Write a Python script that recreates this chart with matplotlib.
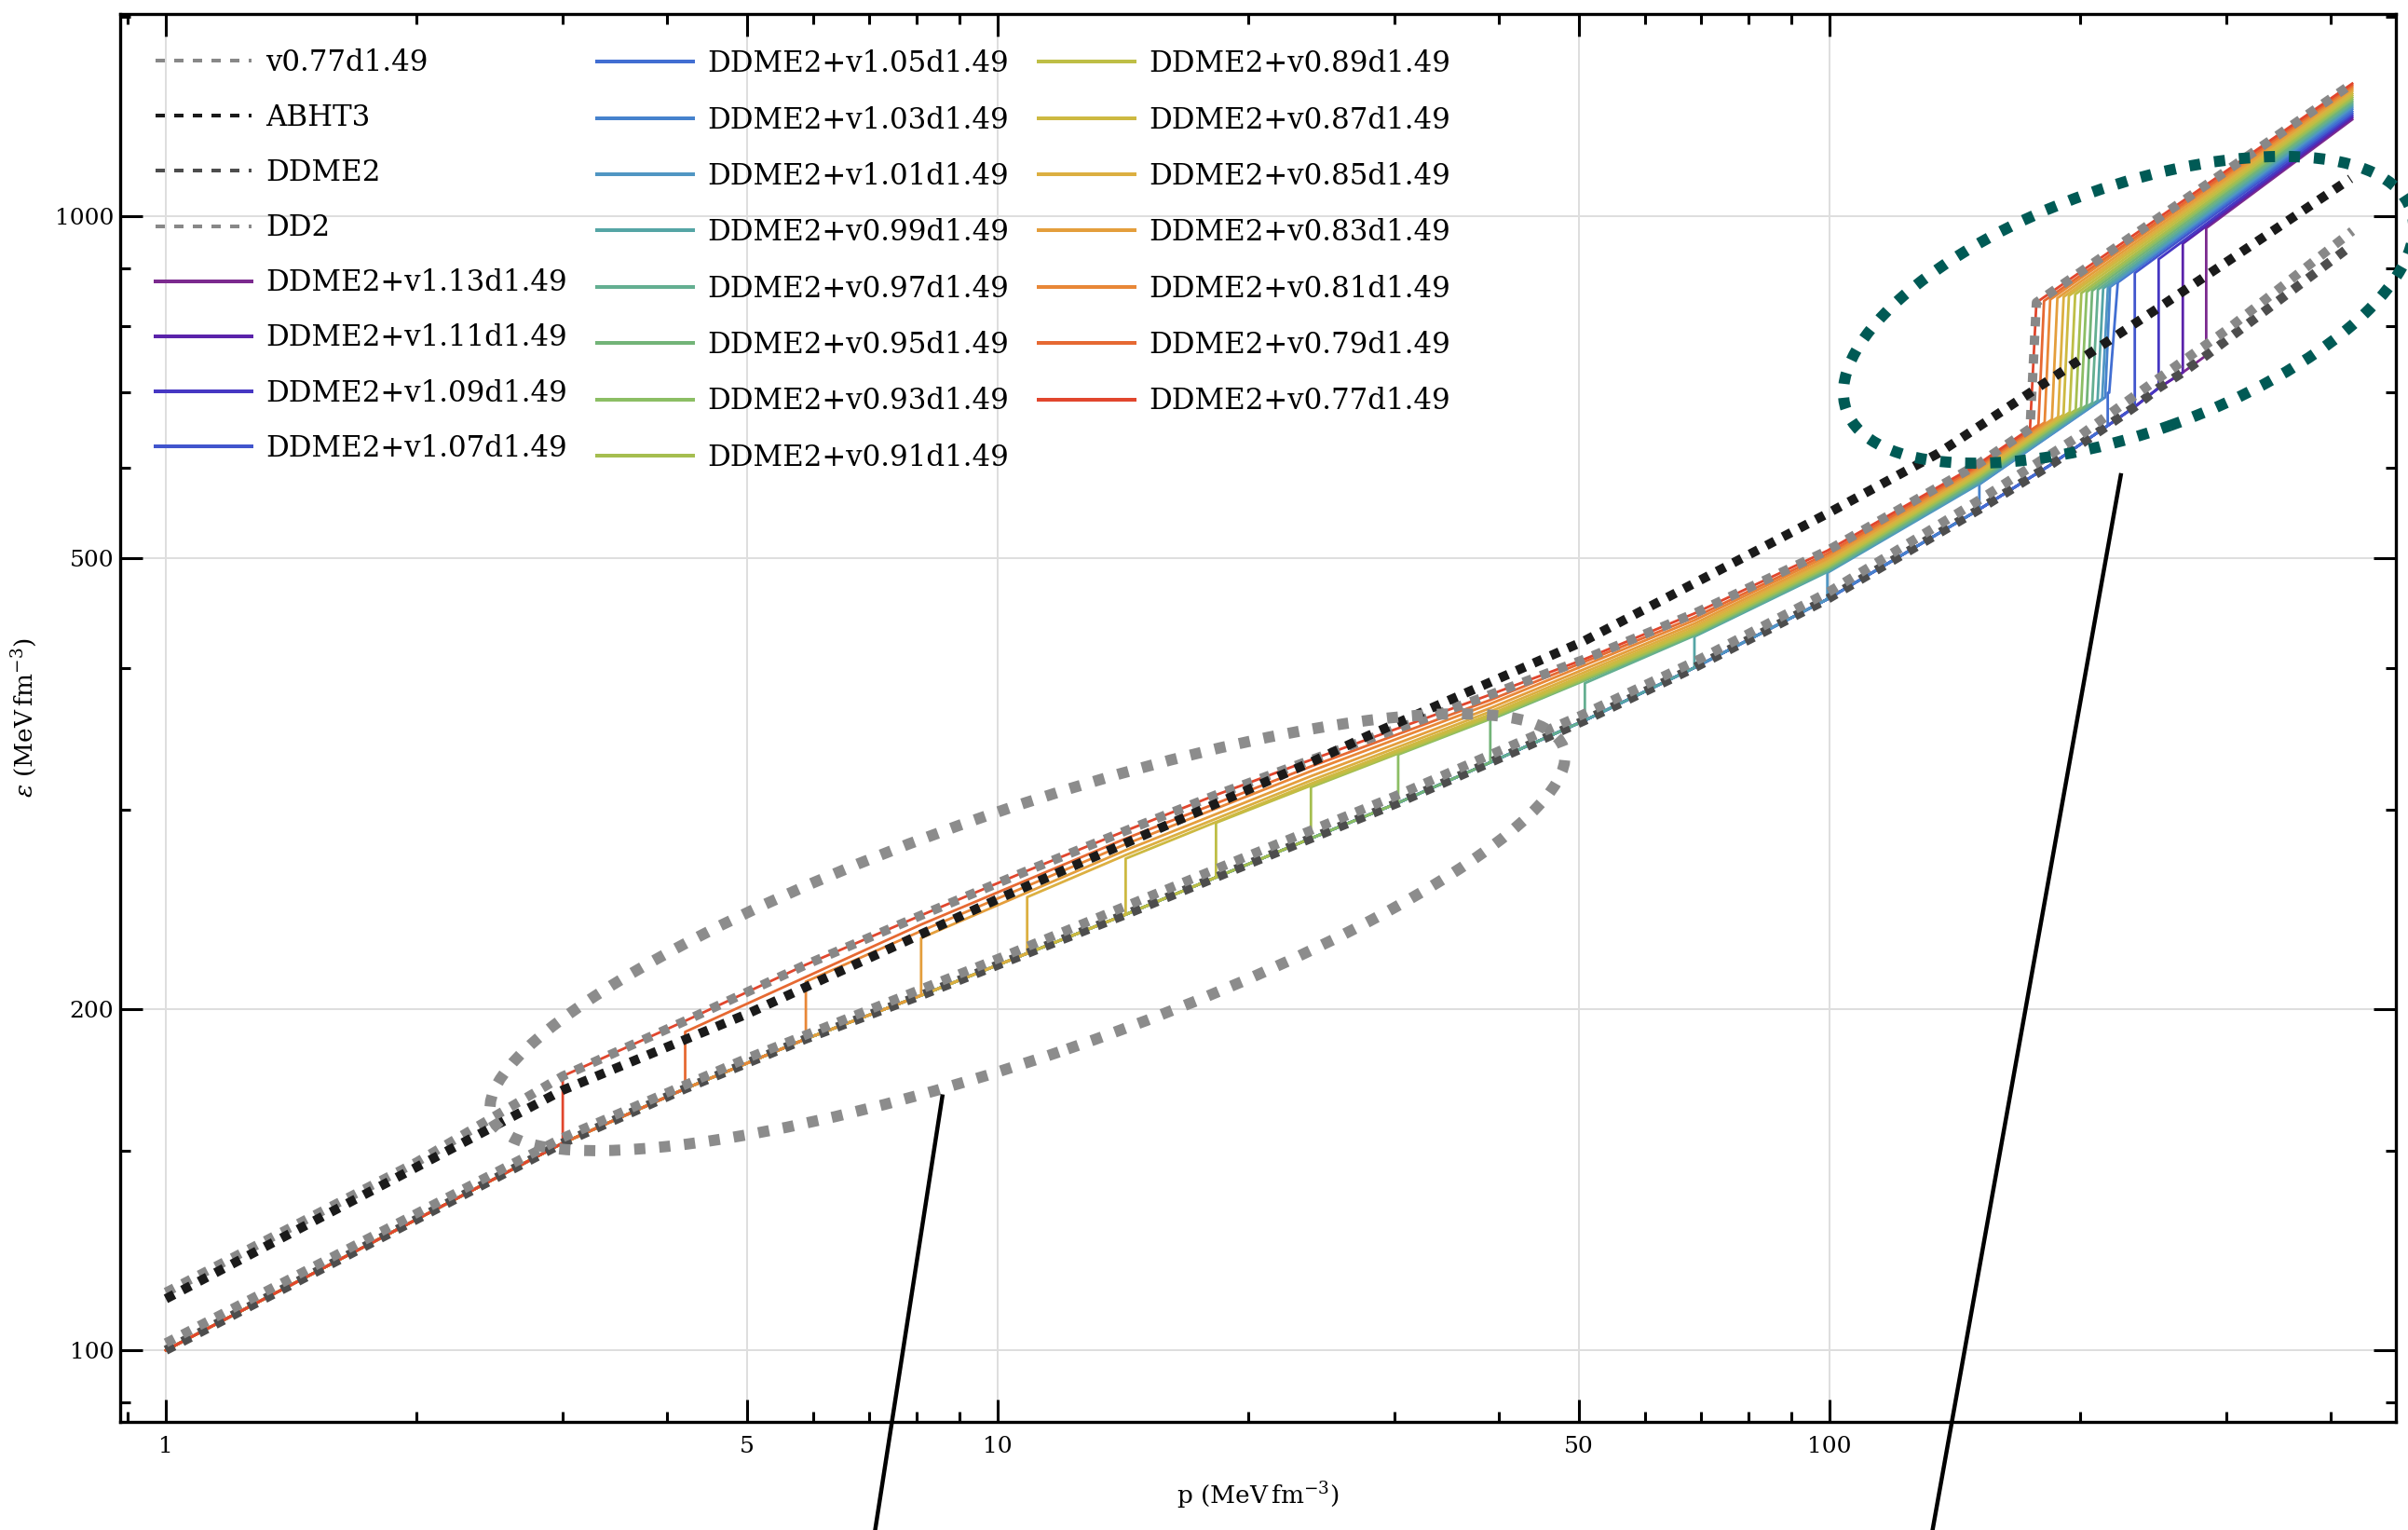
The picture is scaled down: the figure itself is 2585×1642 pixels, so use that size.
import matplotlib
matplotlib.use("Agg")
import matplotlib.pyplot as plt
from matplotlib.lines import Line2D
from matplotlib.patches import Ellipse
from matplotlib.ticker import FixedLocator, FixedFormatter, NullFormatter

plt.rcParams['font.family'] = ['DejaVu Serif']
plt.rcParams['mathtext.fontset'] = 'dejavuserif'

# ---------------- data (p, eps in MeV fm^-3) ----------------
ddme2_p = [1, 2, 3, 4.21, 5.88, 8.09, 10.85, 14.25, 18.3, 23.8, 30.3, 39.1, 50.8, 68.8,
           99.4, 151.4, 183.8, 216, 232.8, 248.7, 265.9, 283.7, 425]
ddme2_e = [100, 130.4, 152.3, 170.1, 188.2, 205.6, 223.9, 242.3, 261.3, 282.8, 304, 330,
           359.4, 400, 459.7, 551.8, 603, 654, 679.5, 706, 728.6, 754.2, 944]

dd2_p = [1, 2, 3, 5, 10, 20, 30, 50, 70, 100, 150, 200, 250, 300, 425]
dd2_e = [101.5, 132, 154, 181, 221.5, 273, 308, 362.5, 407.5, 467, 560, 641, 722, 794, 971]

abht3_p = [1, 2, 3, 5, 10, 24, 27.8, 50.6, 99.4, 135, 246, 423]
abht3_e = [111, 145, 169.6, 198, 250, 331, 348, 422, 547, 618, 826.5, 1080]

q077_p = [1, 2, 3, 4.21, 5.88, 8.09, 10.85, 14.25, 18.3, 23.8, 30.3, 39.1, 50.8, 68.8,
          99.4, 151.4, 174.2, 177.3, 425]
q077_e = [112.5, 146.5, 174.5, 195.2, 218.8, 241.9, 264.8, 287.2, 308.9, 331.7, 353.7, 378.7,
          407.1, 446.6, 507.3, 605.8, 650, 839.8, 1310]

# hybrid DDME2 + vX d1.49, ordered v0.77 ... v1.13
hyb_v = ['0.77', '0.79', '0.81', '0.83', '0.85', '0.87', '0.89', '0.91', '0.93', '0.95',
         '0.97', '0.99', '1.01', '1.03', '1.05', '1.07', '1.09', '1.11', '1.13']
hyb_colors = ['#e1462d', '#e66932', '#e88737', '#e49e3c', '#dcaf41', '#cdb941', '#bebe46',
              '#a5be50', '#8cbe64', '#73b478', '#64af91', '#55a5a5', '#5096c3', '#4682cd',
              '#416ed2', '#4155cd', '#4637c3', '#5a23aa', '#7b2a8e']
# first transition (hadron -> quark)
p1 = [3.0, 4.21, 5.88, 8.09, 10.85, 14.25, 18.3, 23.8, 30.3, 39.1, 50.8, 68.8, 99.4, 151.4,
      216, 232.8, 248.7, 265.9, 283.7]
e1_lo = [152.3, 170.1, 188.2, 205.6, 223.9, 242.3, 261.3, 282.8, 304, 330, 359.4, 400, 459.7,
         551.8, 654, 679.5, 706, 728.6, 754.2]
e1_hi = [174.5, 190.9, 211.4, 231, 251, 271.4, 291.9, 313.8, 335.3, 359.8, 387.6, 426.1, 485,
         580.4, 699, 891.7, 917, 946.5, 976.8]
# intermediate quark branch, sampled at these pressures
branch_p = [8.09, 14.25, 23.8, 39.1, 68.8, 99.4, 151.4]
branch_e = [
    None,
    [237.4, 282.7, 327.3, 374.6, 443.1, 504.3, 603.4],
    [234.3, 279.5, 324.2, 371.7, 440.4, 501.7, 601.3],
    [None, 276.1, 320.9, 368.5, 437.5, 499.1, 599.0],
    [None, 273.4, 318.1, 365.9, 435.1, 496.9, 597.0],
    [None, None, 316.1, 363.8, 433.0, 494.7, 594.7],
    [None, None, 314.8, 362.4, 431.3, 492.9, 592.6],
    [None, None, None, 361.2, 429.9, 491.3, 590.8],
    [None, None, None, 360.4, 428.8, 489.9, 588.7],
    [None, None, None, None, 427.7, 488.4, 586.7],
    [None, None, None, None, 426.9, 487.2, 585.0],
    [None, None, None, None, None, 485.9, 583.0],
    [None, None, None, None, None, None, 581.0],
    None, None, None, None, None, None,
]
# second transition
p2_lo = [174.2, 178.3, 181.4, 185.1, 188.3, 191.1, 194.4, 197.7, 200.6, 203.8, 206.9, 210.0,
         212.7, 214.5, 216.9, None, None, None, None]
e2_lo = [650, 655, 658.3, 662.3, 665.6, 668.6, 672, 675.3, 678.3, 681.6, 684.8, 688, 690.5,
         692.7, 699.2, None, None, None, None]
p2_hi = [177.3, 181.1, 184.2, 187.9, 191.2, 194.0, 197.4, 200.8, 203.8, 206.9, 210.2, 213.3,
         216.1, 217.4, 222.1, None, None, None, None]
e2_hi = [839.8, 842.5, 844.8, 847.3, 849.5, 851.4, 853.8, 856, 858, 860.1, 862.1, 864.1, 865.9,
         866.7, 874.8, None, None, None, None]
p_end = 425
e_end = [1310, 1305, 1300, 1295, 1290, 1284, 1279, 1274, 1269, 1264, 1259, 1254, 1249, 1244,
         1238, 1233, 1228, 1223, 1218]

x_major = [1, 5, 10, 50, 100]
x_minor = [0.9, 2, 3, 4, 6, 7, 8, 9, 20, 30, 40, 60, 70, 80, 90, 200, 300, 400]
y_major = [100, 200, 500, 1000]
y_minor = [90, 150, 300, 400, 600, 700, 800, 900, 1500]

# ---------------- figure ----------------
DPI = 200
fig = plt.figure(figsize=(2585 / DPI, 1642 / DPI), dpi=DPI)
ax = fig.add_axes([0.04971, 0.07083, 0.94526, 0.92004])
ax.set_xscale('log')
ax.set_yscale('log')


def hybrid_curve(i):
    ps = [p for p in ddme2_p if p < p1[i]]
    es = [e for p, e in zip(ddme2_p, ddme2_e) if p < p1[i]]
    ps += [p1[i], p1[i]]
    es += [e1_lo[i], e1_hi[i]]
    if i == 0:
        for p, e in zip(q077_p, q077_e):
            if p > p1[0]:
                ps.append(p)
                es.append(e)
        return ps, es
    if branch_e[i] is not None:
        for p, e in zip(branch_p, branch_e[i]):
            if e is not None:
                ps.append(p)
                es.append(e)
    if p2_lo[i] is not None:
        ps += [p2_lo[i], p2_hi[i]]
        es += [e2_lo[i], e2_hi[i]]
    ps.append(p_end)
    es.append(e_end[i])
    return ps, es


for i in range(len(hyb_v) - 1, -1, -1):
    ps, es = hybrid_curve(i)
    ax.plot(ps, es, color=hyb_colors[i], lw=1.0, zorder=3)

ref_ls = (0, (1, 1))
ax.plot(q077_p, q077_e, color='#888888', lw=3.6, ls=ref_ls, zorder=4)
ax.plot(abht3_p, abht3_e, color='#1a1a1a', lw=3.6, ls=ref_ls, zorder=4)
ax.plot(ddme2_p, ddme2_e, color='#4d4d4d', lw=3.6, ls=ref_ls, zorder=4)
ax.plot(dd2_p, dd2_e, color='#888888', lw=3.6, ls=ref_ls, zorder=4)

ax.set_xlim(0.880, 479.6)
ax.set_ylim(86.5, 1509)

ax.xaxis.set_major_locator(FixedLocator(x_major))
ax.xaxis.set_major_formatter(FixedFormatter([str(v) for v in x_major]))
ax.xaxis.set_minor_locator(FixedLocator(x_minor))
ax.xaxis.set_minor_formatter(NullFormatter())
ax.yaxis.set_major_locator(FixedLocator(y_major))
ax.yaxis.set_major_formatter(FixedFormatter([str(v) for v in y_major]))
ax.yaxis.set_minor_locator(FixedLocator(y_minor))
ax.yaxis.set_minor_formatter(NullFormatter())

ax.tick_params(which='both', direction='in', top=True, right=True, width=1.1)
ax.tick_params(which='major', length=8.6, labelsize=9)
ax.tick_params(which='minor', length=4.1)
ax.tick_params(axis='x', which='major', pad=5.5)
ax.tick_params(axis='y', which='major', pad=2.3)
for s in ax.spines.values():
    s.set_linewidth(1.2)
ax.grid(True, which='major', color='#dedede', lw=0.7)
ax.set_axisbelow(True)

ax.set_xlabel(r'p (MeV$\,$fm$^{-3}$)', fontsize=9.5, labelpad=9)
ax.set_ylabel(r'$\epsilon$ (MeV$\,$fm$^{-3}$)', fontsize=9.5, labelpad=6)

# legend: reference curves + first hybrids in column 1, the rest in columns 2-3
ref_handles = [
    Line2D([], [], color='#888888', lw=1.44, ls=(0, (2.5, 2.5))),
    Line2D([], [], color='#1a1a1a', lw=1.44, ls=(0, (2.5, 2.5))),
    Line2D([], [], color='#4d4d4d', lw=1.44, ls=(0, (2.5, 2.5))),
    Line2D([], [], color='#888888', lw=1.44, ls=(0, (2.5, 2.5))),
]
ref_labels = ['v0.77d1.49', 'ABHT3', 'DDME2', 'DD2']
hyb_handles = []
hyb_labels = []
for i in range(len(hyb_v) - 1, -1, -1):
    hyb_handles.append(Line2D([], [], color=hyb_colors[i], lw=1.44))
    hyb_labels.append('DDME2+v' + hyb_v[i] + 'd1.49')

leg_kw = dict(loc='upper left', frameon=False, fontsize=11.1, handlelength=3.34,
              handletextpad=0.5, borderpad=0, borderaxespad=0)
leg1 = ax.legend(ref_handles + hyb_handles[:4], ref_labels + hyb_labels[:4], ncol=1,
                 bbox_to_anchor=(0.01576, 0.9754), labelspacing=0.91, **leg_kw)
ax.add_artist(leg1)
ax.legend(hyb_handles[4:], hyb_labels[4:], ncol=2, bbox_to_anchor=(0.2097, 0.9747),
          labelspacing=0.952, columnspacing=1.025, **leg_kw)

# annotation ellipses and connector lines (figure inches)
tr = fig.dpi_scale_trans
fig.add_artist(Ellipse((1103 / DPI, (1642 - 1000.5) / DPI), 1217 / DPI, 265 / DPI, angle=19,
                       fill=False, edgecolor='#8c8c8c', lw=4.3, ls=(0, (1, 1.25)),
                       transform=tr, zorder=5))
fig.add_artist(Ellipse((2285 / DPI, (1642 - 332.5) / DPI), 643 / DPI, 264 / DPI, angle=19.6,
                       fill=False, edgecolor='#005a55', lw=4.3, ls=(0, (1, 1.25)),
                       transform=tr, zorder=5))
fig.add_artist(Line2D([1011.6 / DPI, 936.7 / DPI], [(1642 - 1176.7) / DPI, -18 / DPI],
                      color='black', lw=1.6, transform=tr, zorder=5))
fig.add_artist(Line2D([2276.7 / DPI, 2071.4 / DPI], [(1642 - 510) / DPI, -18 / DPI],
                      color='black', lw=1.6, transform=tr, zorder=5))

fig.savefig('out.png', dpi=DPI)
